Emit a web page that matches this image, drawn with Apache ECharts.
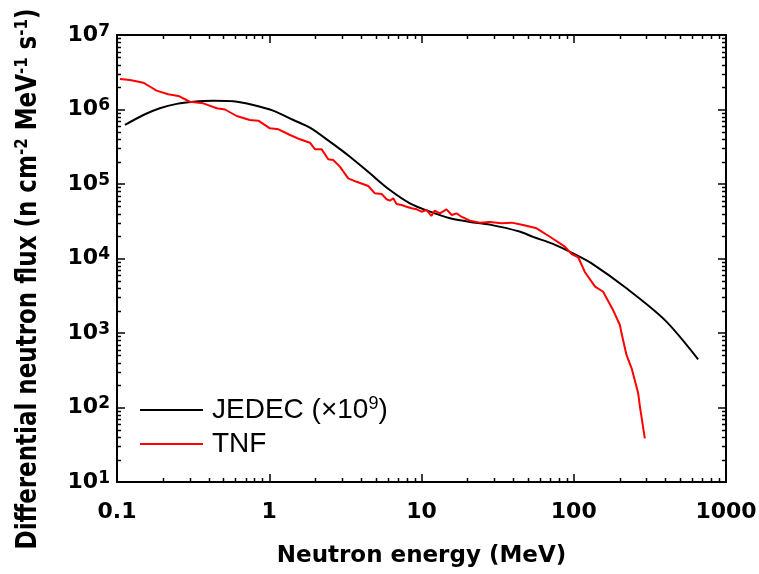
<!DOCTYPE html>
<html>
<head>
<meta charset="utf-8">
<script src="https://cdn.jsdelivr.net/npm/echarts@6/dist/echarts.min.js"></script>
<style>
  html, body { margin: 0; padding: 0; background: #fff; }
  #main { width: 759px; height: 574px; }
</style>
</head>
<body>
<div id="main"></div>
<script>
// energy (MeV) / flux pairs
var jedecE = [0.1128, 0.149, 0.191, 0.247, 0.317, 0.428, 0.581, 0.785, 1.06, 1.44, 1.85, 2.5, 3.39, 4.58, 6.2, 8.39, 11.4, 15.4, 20.8, 28.1, 44, 54, 73, 99, 131, 222, 397, 656];
var jedecF = [6.2e5, 8.44e5, 1.04e6, 1.19e6, 1.27e6, 1.31e6, 1.29e6, 1.15e6, 9.64e5, 7.23e5, 5.7e5, 3.7e5, 2.32e5, 1.39e5, 8.3e4, 5.51e4, 4.25e4, 3.47e4, 3.1e4, 2.85e4, 2.3e4, 1.95e4, 1.57e4, 1.17e4, 8.6e3, 3.98e3, 1.49e3, 444];

var tnfE = [0.1046, 0.1217, 0.149, 0.165, 0.182, 0.217, 0.253, 0.301, 0.369, 0.452, 0.512, 0.611, 0.746, 0.847, 1.01, 1.15, 1.37, 1.59, 1.85, 2.0, 2.21, 2.44, 2.63, 2.91, 3.3, 3.75, 4.47, 4.94, 5.47, 5.9, 6.2, 6.52, 6.86, 7.4, 7.98, 8.61, 9.29, 10.0, 10.8, 11.6, 12.2, 13.2, 14.6, 15.8, 17.0, 18.3, 20.8, 24.2, 28.1, 33.6, 39.1, 46.5, 57.0, 69.7, 87.4, 96.8, 107, 118, 138, 156, 181, 201, 206, 222, 240, 265, 272, 293];
var tnfF = [2.56e6, 2.49e6, 2.29e6, 2.02e6, 1.79e6, 1.6e6, 1.52e6, 1.27e6, 1.21e6, 1.04e6, 1.0e6, 8.18e5, 7.23e5, 7.08e5, 5.59e5, 5.42e5, 4.55e5, 3.98e5, 3.58e5, 2.92e5, 2.92e5, 2.15e5, 2.1e5, 1.71e5, 1.19e5, 1.07e5, 9.4e4, 7.5e4, 7.35e4, 6.24e4, 5.97e4, 6.43e4, 5.39e4, 5.22e4, 4.96e4, 4.72e4, 4.57e4, 4.25e4, 4.48e4, 3.72e4, 4.38e4, 4.04e4, 4.57e4, 3.84e4, 4.04e4, 3.64e4, 3.21e4, 3.03e4, 3.09e4, 2.97e4, 3.03e4, 2.82e4, 2.54e4, 1.96e4, 1.44e4, 1.15e4, 1.04e4, 6.65e3, 4.19e3, 3.58e3, 2.04e3, 1.28e3, 990, 507, 336, 155, 103, 38.6];

var xMin = 0.1, xMax = 1000;
var yMin = 10, yMax = 1e7;

function pairs(xs, ys) {
  return xs.map(function (x, i) { return [x, ys[i]]; });
}

// minor tick values 2..9 x 10^k
function minors(lo, hi) {
  var out = [];
  for (var d = lo; d < hi; d *= 10) {
    for (var k = 2; k <= 9; k++) out.push(+(k * d).toPrecision(6));
  }
  return out;
}

var boldFont = 'DejaVu Sans';
var lineW = 2;

var myChart = echarts.init(document.getElementById('main'));

function axisBase(pos) {
  return {
    type: 'log',
    logBase: 10,
    position: pos,
    axisLine: { show: true, onZero: false, lineStyle: { color: '#000', width: lineW } },
    axisTick: { show: true, inside: true, length: 8, lineStyle: { color: '#000', width: 1.5 } },
    minorTick: { show: false },
    splitLine: { show: false },
    minorSplitLine: { show: false }
  };
}

var xBottom = axisBase('bottom');
xBottom.min = xMin; xBottom.max = xMax;
xBottom.axisLabel = {
  margin: 19,
  color: '#000',
  fontFamily: boldFont,
  fontWeight: 'bold',
  fontSize: 22,
  formatter: function (v) { return String(+(+v).toPrecision(6)); }
};
xBottom.name = 'Neutron energy (MeV)';
xBottom.nameLocation = 'middle';
xBottom.nameGap = 63;
xBottom.nameTextStyle = { color: '#000', fontFamily: boldFont, fontWeight: 'bold', fontSize: 23 };

var xTop = axisBase('top');
xTop.min = xMin; xTop.max = xMax;
xTop.axisLabel = { show: false };

var yLeft = axisBase('left');
yLeft.min = yMin; yLeft.max = yMax;
yLeft.axisLabel = {
  margin: 7,
  color: '#000',
  formatter: function (v) {
    return '{b|10}{s|' + Math.round(Math.log10(v)) + '}';
  },
  rich: {
    b: { fontFamily: boldFont, fontWeight: 'bold', fontSize: 22, lineHeight: 24, color: '#000' },
    s: { fontFamily: boldFont, fontWeight: 'bold', fontSize: 17, lineHeight: 14, verticalAlign: 'top', color: '#000' }
  }
};

var yRight = axisBase('right');
yRight.min = yMin; yRight.max = yMax;
yRight.axisLabel = { show: false };

myChart.setOption({
  animation: false,
  backgroundColor: '#fff',
  grid: { left: 117, right: 33, top: 35, bottom: 92, containLabel: false, outerBoundsMode: 'none' },
  legend: {
    data: ['JEDEC', 'TNF'],
    orient: 'vertical',
    left: 135,
    top: 390,
    icon: 'rect',
    itemWidth: 63,
    itemHeight: 2,
    itemGap: 4,
    textStyle: {
      fontFamily: 'Liberation Sans',
      fontSize: 28,
      lineHeight: 30,
      padding: [0, 0, 0, 4],
      color: '#000',
      rich: {
        s: { fontFamily: 'Liberation Sans', fontSize: 18, lineHeight: 18, verticalAlign: 'top', color: '#000' }
      }
    },
    formatter: function (name) {
      return name === 'JEDEC' ? 'JEDEC (\u00d710{s|9})' : name;
    }
  },
  xAxis: [xBottom, xTop],
  yAxis: [yLeft, yRight],
  series: [
    {
      name: 'JEDEC',
      type: 'line',
      data: pairs(jedecE, jedecF),
      showSymbol: false,
      symbol: 'none',
      smooth: 0.3,
      lineStyle: { color: '#000', width: lineW },
      itemStyle: { color: '#000' }
    },
    {
      name: 'TNF',
      type: 'line',
      data: pairs(tnfE, tnfF),
      showSymbol: false,
      symbol: 'none',
      lineStyle: { color: '#ff0000', width: lineW },
      itemStyle: { color: '#ff0000' }
    }
  ]
});

// minor ticks on all four sides, placed through the axes' own scales
var gLeft = myChart.convertToPixel({ xAxisIndex: 0 }, xMin);
var gRight = myChart.convertToPixel({ xAxisIndex: 0 }, xMax);
var gBottom = myChart.convertToPixel({ yAxisIndex: 0 }, yMin);
var gTop = myChart.convertToPixel({ yAxisIndex: 0 }, yMax);
var graphics = [];
function tick(x1, y1, x2, y2) {
  graphics.push({
    type: 'line',
    silent: true,
    shape: { x1: x1, y1: y1, x2: x2, y2: y2 },
    style: { stroke: '#000', lineWidth: 1.5 }
  });
}
minors(xMin, xMax).forEach(function (v) {
  var px = Math.round(myChart.convertToPixel({ xAxisIndex: 0 }, v)) + 0.5;
  tick(px, gBottom, px, gBottom - 4);
  tick(px, gTop, px, gTop + 4);
});
minors(yMin, yMax).forEach(function (v) {
  var py = Math.round(myChart.convertToPixel({ yAxisIndex: 0 }, v)) + 0.5;
  tick(gLeft, py, gLeft + 4, py);
  tick(gRight, py, gRight - 4, py);
});
graphics.push({
  type: 'text',
  x: 29,
  y: 279,
  rotation: Math.PI / 2,
  scaleY: 1.2,
  style: {
    text: 'Differential neutron flux (n cm{s|-2} MeV{s|-1} s{s|-1})',
    fontFamily: boldFont,
    fontWeight: 'bold',
    fontSize: 23,
    lineHeight: 26,
    fill: '#000',
    align: 'center',
    verticalAlign: 'middle',
    rich: {
      s: { fontFamily: boldFont, fontWeight: 'bold', fontSize: 15, lineHeight: 15, verticalAlign: 'top', fill: '#000' }
    }
  }
});
myChart.setOption({ graphic: graphics });
</script>
</body>
</html>
